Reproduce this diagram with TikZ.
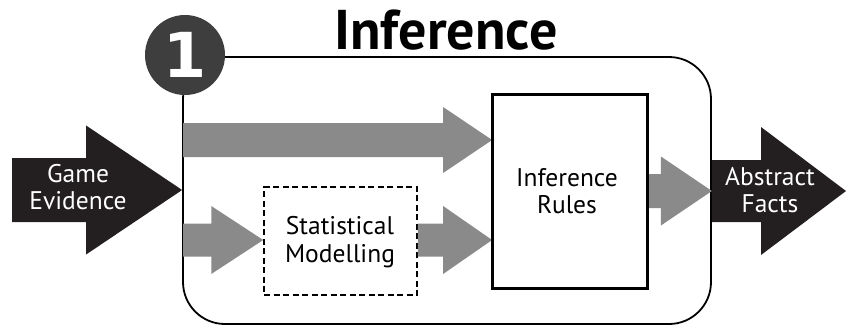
\documentclass[tikz,border=0pt]{standalone}
\usepackage{fontspec}
\setmainfont{PT Sans}
\newfontfamily\numfont{DejaVu Sans}
\usetikzlibrary{calc}
\definecolor{arrowgray}{HTML}{8A8A8A}
\definecolor{arrowblack}{HTML}{231F20}
\definecolor{circlegray}{HTML}{3E3E3E}
\newcommand\fatarrow[6]{%
  \fill[#1] let \p1=(#2), \p2=(#3) in
    (\x1,{\y1+#5pt}) -- ({\x2-#4pt},{\y1+#5pt}) -- ({\x2-#4pt},{\y1+#6pt}) --
    (\x2,\y1) -- ({\x2-#4pt},{\y1-#6pt}) -- ({\x2-#4pt},{\y1-#5pt}) --
    (\x1,{\y1-#5pt}) -- cycle;}
\tikzset{
  lbl/.style={font=\fontsize{25.5}{27.5}\selectfont, align=center, inner sep=0pt},
  wlbl/.style={lbl, text=white},
}
\begin{document}
\begin{tikzpicture}[x=1pt,y=-1pt]
\useasboundingbox (0,0) rectangle (848,327);
% main rounded box
\node[draw, line width=1.8pt, rounded corners=42pt, minimum width=528pt, minimum height=267pt, inner sep=0pt] (main) at (447,190.5) {};
% inner boxes
\node[draw, line width=1.8pt, minimum width=154pt, minimum height=193pt, inner sep=0pt] (rules) at (570,191.5) {};
\node[draw, line width=1.5pt, dash pattern=on 6pt off 3.5pt, minimum width=153pt, minimum height=108pt, inner sep=0pt] (stat) at (340.5,241) {};
% title
\node[font=\fontsize{56}{56}\selectfont\bfseries, inner sep=0pt, anchor=base] (title) at (446,49) {Inference};
% named coordinates for arrows
\coordinate (inTop) at (183,140);
\coordinate (tipTop) at (rules.west |- inTop);
\coordinate (inLow) at (183,240);
\coordinate (tipLow) at (stat.west |- inLow);
\coordinate (outStat) at (stat.east |- inLow);
\coordinate (tipMid) at (rules.west |- inLow);
\coordinate (outRules) at (rules.east |- 0,191);
\coordinate (tipRight) at (main.east |- outRules);
\coordinate (geStart) at (12,190);
\coordinate (geTip) at (main.west |- geStart);
\coordinate (afStart) at (main.east |- 0,191);
\coordinate (afTip) at (846,191);
% gray arrows
\fatarrow{arrowgray}{inTop}{tipTop}{49}{17}{33}
\fatarrow{arrowgray}{inLow}{tipLow}{52}{16.5}{34}
\fatarrow{arrowgray}{outStat}{tipMid}{49}{16.5}{34}
\fatarrow{arrowgray}{outRules}{tipRight}{51}{17}{34.5}
% black arrows
\fatarrow{arrowblack}{geStart}{geTip}{96}{32}{64.5}
\fatarrow{arrowblack}{afStart}{afTip}{85}{31}{64}
% redraw box border on top
\draw[line width=1.8pt] (rules.north west) rectangle (rules.south east);
% circle
\node[circle, fill=circlegray, minimum size=80pt, inner sep=0pt, text=white, font=\numfont\fontsize{62}{62}\selectfont\bfseries] (one) at (185,55) {1};
% labels
\node[wlbl] (ge) at (78,187) {Game\\Evidence};
\node[wlbl] (af) at (770,190) {Abstract\\Facts};
\node[lbl] (rl) at (567,191) {Inference\\Rules};
\node[lbl] (sm) at (340,242) {Statistical\\Modelling};
\end{tikzpicture}
\end{document}
